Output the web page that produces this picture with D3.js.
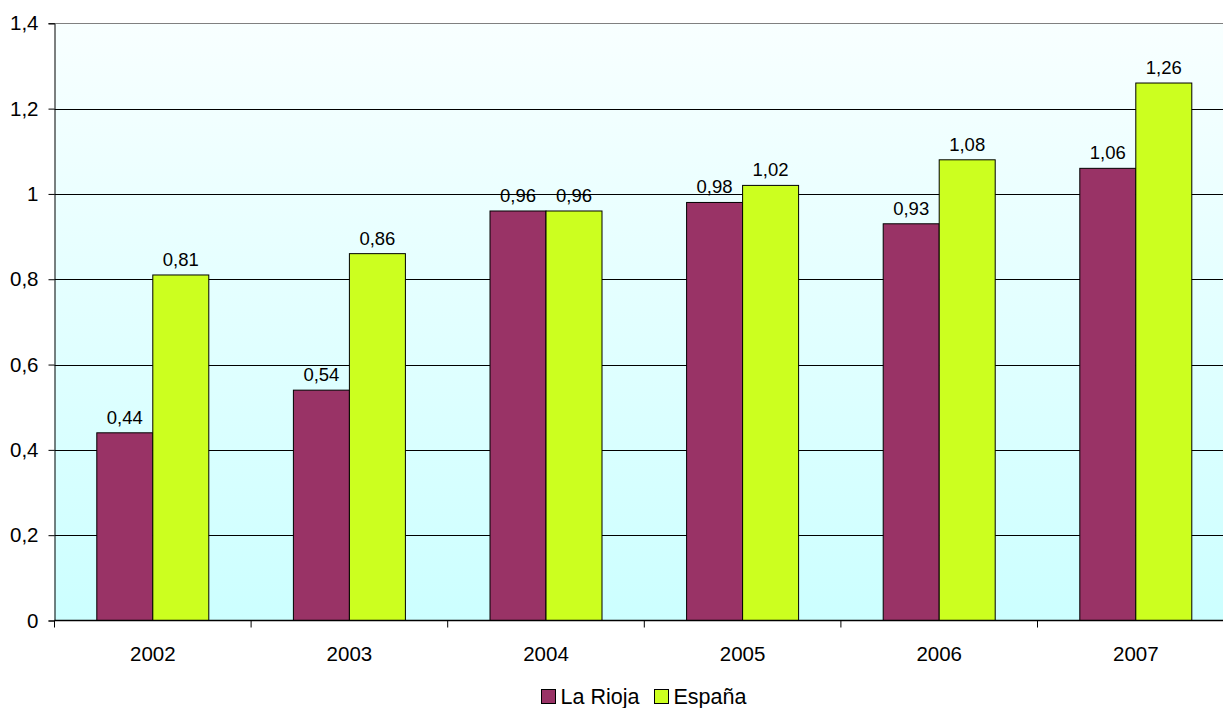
<!DOCTYPE html>
<html><head><meta charset="utf-8">
<script src="https://cdn.jsdelivr.net/npm/d3@7"></script>
<style>body{margin:0;background:#fff;}svg{display:block;font-family:"Liberation Sans",Arial,sans-serif;}</style>
</head><body>
<svg id="c" width="1223" height="708"></svg>
<script>
const years = ["2002","2003","2004","2005","2006","2007"];
const laRioja = [0.44,0.54,0.96,0.98,0.93,1.06];
const espana = [0.81,0.86,0.96,1.02,1.08,1.26];
const seriesNames = ["La Rioja","España"];
const seriesColors = ["#993366","#ccff1f"];
const yTicks = [0,0.2,0.4,0.6,0.8,1,1.2,1.4];

const svg = d3.select("#c");
const L=54.5, T=23.3, B=620.5, catW=196.6;
const R = L + catW*years.length;
const x = d3.scaleBand().domain(years).range([L,R]).paddingInner(0).paddingOuter(0);
const y = d3.scaleLinear().domain([0,1.4]).range([B,T]);
const fmt = v => String(v).replace(".",",");

const defs = svg.append("defs");
const g = defs.append("linearGradient").attr("id","bg").attr("x1",0).attr("y1",0).attr("x2",0).attr("y2",1);
g.append("stop").attr("offset","0%").attr("stop-color","#f8ffff");
g.append("stop").attr("offset","100%").attr("stop-color","#ccffff");
svg.append("rect").attr("x",L).attr("y",T).attr("width",R-L).attr("height",B-T).attr("fill","url(#bg)");

// gridlines
svg.selectAll(".grid").data(yTicks.filter(d=>d>0)).enter().append("line")
  .attr("x1",L).attr("x2",R).attr("y1",d=>Math.round(y(d))+0.5).attr("y2",d=>Math.round(y(d))+0.5)
  .attr("stroke",d=>d===1.4?"#808080":"#000").attr("stroke-width",1);

// bars
const bw = 56;
const series = [laRioja, espana];
series.forEach((vals,si)=>{
  svg.selectAll(".b"+si).data(years).enter().append("rect")
    .attr("x",(d,i)=>x(d)+x.bandwidth()/2 + (si===0?-bw:0))
    .attr("y",(d,i)=>y(vals[i]))
    .attr("width",bw)
    .attr("height",(d,i)=>B-y(vals[i]))
    .attr("fill",seriesColors[si]).attr("stroke","#000").attr("stroke-width",1);
  svg.selectAll(".l"+si).data(years).enter().append("text")
    .attr("x",(d,i)=>x(d)+x.bandwidth()/2 + (si===0?-bw/2:bw/2))
    .attr("y",(d,i)=>y(vals[i])-9)
    .attr("text-anchor","middle").attr("font-size","18.5px").attr("fill","#000")
    .text((d,i)=>fmt(vals[i]));
});

// y axis
const yAxis = d3.axisLeft(y).tickValues(yTicks).tickSize(6).tickPadding(10).tickFormat(fmt);
const ya = svg.append("g").attr("transform",`translate(${L},0)`).call(yAxis);
ya.select(".domain").attr("stroke","#000");
ya.selectAll("text").attr("font-size","20.5px").attr("fill","#000").attr("font-family","Liberation Sans, Arial, sans-serif");
ya.selectAll("line").attr("stroke","#000");

// x axis
svg.append("line").attr("x1",L).attr("x2",R).attr("y1",B).attr("y2",B).attr("stroke","#000").attr("stroke-width",1.5);
svg.selectAll(".xt").data(d3.range(years.length+1)).enter().append("line")
  .attr("x1",i=>L+i*catW).attr("x2",i=>L+i*catW).attr("y1",B).attr("y2",B+7).attr("stroke","#000");
svg.selectAll(".xl").data(years).enter().append("text")
  .attr("x",d=>x(d)+x.bandwidth()/2).attr("y",B+40)
  .attr("text-anchor","middle").attr("font-size","20.5px").text(d=>d);

// legend
const lg = svg.append("g");
const items = [{n:seriesNames[0],c:seriesColors[0],x:541.5},{n:seriesNames[1],c:seriesColors[1],x:654.5}];
items.forEach(it=>{
  lg.append("rect").attr("x",it.x).attr("y",689.5).attr("width",14).attr("height",14).attr("fill",it.c).attr("stroke","#000");
  lg.append("text").attr("x",it.x+19).attr("y",704).attr("font-size","21.5px").text(it.n);
});
</script>
</body></html>
